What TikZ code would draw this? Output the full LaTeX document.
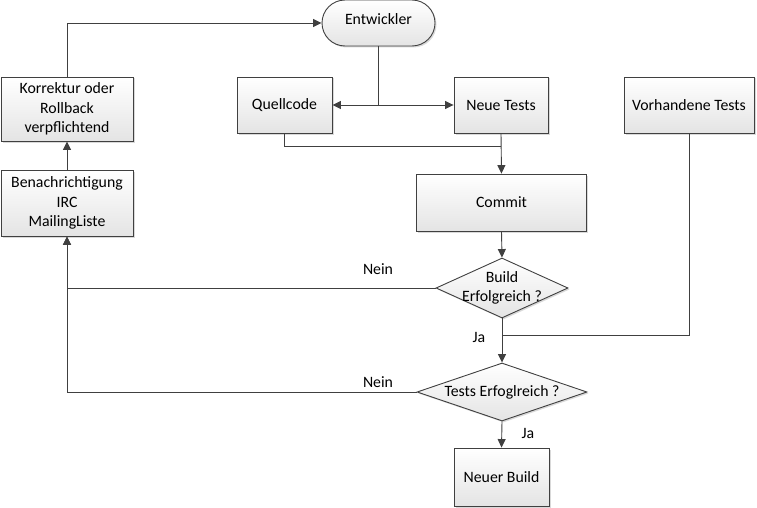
\documentclass[tikz,border=0pt]{standalone}
\usepackage{fontspec}
\setmainfont{Carlito}
\usetikzlibrary{arrows.meta,shadows,shapes.geometric}
\definecolor{linecol}{HTML}{404040}
\definecolor{boxgray}{HTML}{E4E4E4}
\begin{document}
\begin{tikzpicture}[x=1pt,y=-1pt,
  every node/.style={font=\fontsize{15.8}{19.5}\selectfont, text=black},
  flowbox/.style={draw=linecol, line width=0.9pt, top color=white, bottom color=boxgray,
    drop shadow={shadow xshift=1.5pt, shadow yshift=-1.5pt, fill=black!25, opacity=0.6},
    align=center, inner sep=1pt},
  dia/.style={diamond, draw=linecol, line width=0.9pt, top color=white, bottom color=boxgray,
    drop shadow={shadow xshift=1.5pt, shadow yshift=-1.5pt, fill=black!25, opacity=0.6},
    inner sep=0pt},
  conn/.style={draw=linecol, line width=0.9pt},
  arr/.style={conn, -{Triangle[length=8.5pt,width=8pt]}},
  lbl/.style={inner sep=0pt}
]
\useasboundingbox (0,0) rectangle (757,508);

% nodes
\node[flowbox, rounded corners=23pt, minimum width=113pt, minimum height=46pt] (ent) at (378.5,23) {\raisebox{8pt}{Entwickler}};
\node[flowbox, minimum width=95pt, minimum height=56pt] (quell) at (284.5,105) {Quellcode};
\node[flowbox, minimum width=94pt, minimum height=56pt] (neue) at (501,105) {Neue Tests};
\node[flowbox, minimum width=130pt, minimum height=56pt] (vorh) at (689,105) {Vorhandene Tests};
\node[flowbox, minimum width=132pt, minimum height=64pt] (korr) at (67,109) {Korrektur oder\\Rollback\\verpflichtend};
\node[flowbox, minimum width=132pt, minimum height=66pt] (bena) at (67,203) {Benachrichtigung\\IRC\\MailingListe};
\node[flowbox, minimum width=170pt, minimum height=57pt] (commit) at (501.5,202.5) {Commit};
\node[dia, minimum width=132pt, minimum height=60pt,
  label={[align=center, inner sep=0pt]center:Build\\Erfolgreich ?}] (build) at (502,288) {};
\node[dia, minimum width=170pt, minimum height=58pt,
  label={[inner sep=0pt]center:Tests Erfoglreich ?}] (tests) at (502,392) {};
\node[flowbox, minimum width=95pt, minimum height=58pt] (neubuild) at (501.5,477) {Neuer Build};

% junctions
\coordinate (j1) at (ent.south |- quell.east);
\coordinate (j2) at (501,146);
\coordinate (j3) at (502,335);

% connectors
\draw[conn] (ent.south) -- (j1);
\draw[arr] (j1) -- (quell.east);
\draw[arr] (j1) -- (neue.west);
\draw[conn] (quell.south) |- (j2);
\draw[arr] (neue.south) -- (commit.north);
\draw[arr] (commit.south) -- (build.north);
\draw[conn] (build.south) -- (j3);
\draw[conn] (vorh.south) |- (j3);
\draw[arr] (j3) -- (tests.north);
\draw[arr] (tests.south) -- (neubuild.north);
\draw[arr] (build.west) -| (bena.south);
\draw[arr] (tests.west) -| (bena.south);
\draw[arr] (bena.north) -- (korr.south);
\draw[arr] (korr.north) |- (ent.west);

% labels
\node[lbl] (nein1) at (378,269) {Nein};
\node[lbl] (nein2) at (378,382) {Nein};
\node[lbl] (ja1) at (479,337) {Ja};
\node[lbl] (ja2) at (528,433) {Ja};
\end{tikzpicture}
\end{document}
